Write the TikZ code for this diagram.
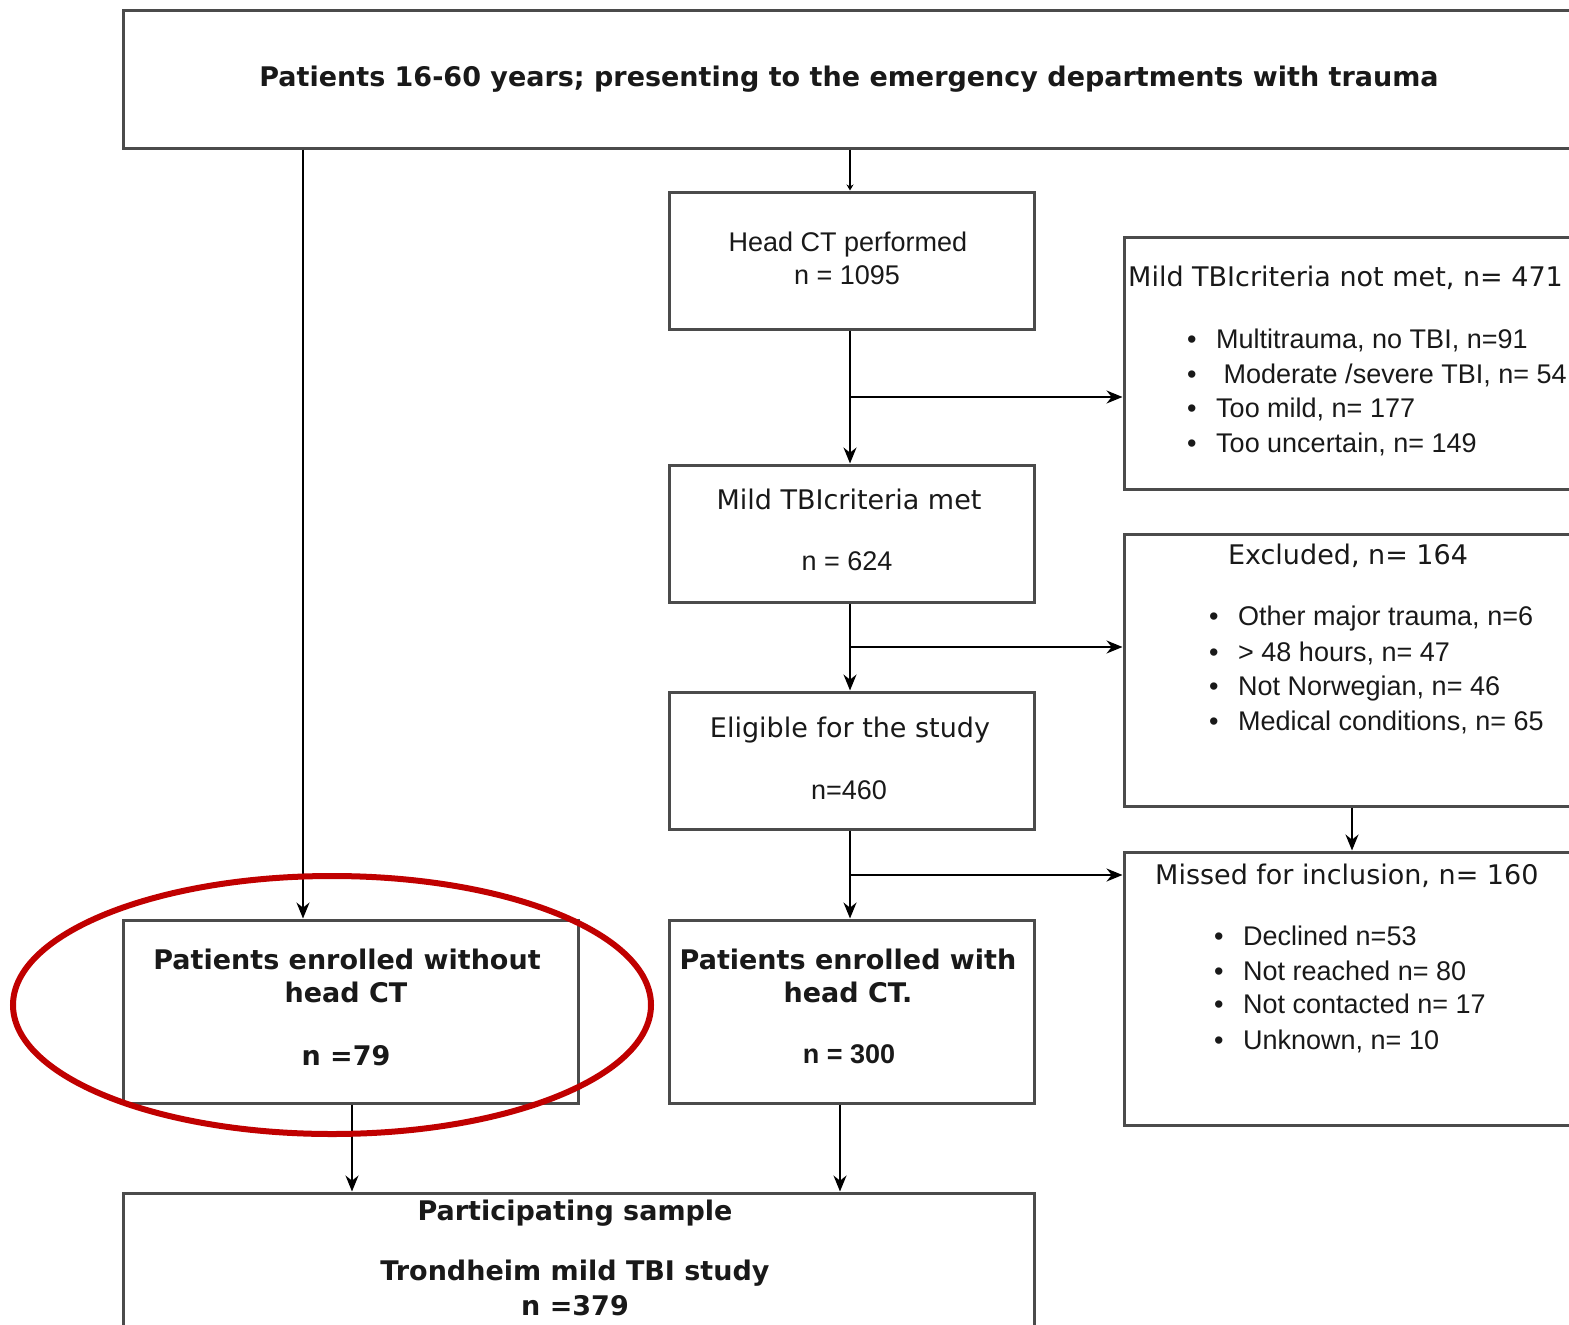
\documentclass[tikz,border=0pt]{standalone}
\usepackage{fontspec}
\usetikzlibrary{arrows.meta,fit,shapes.geometric}
\newfontfamily\verd{DejaVu Sans}
\newfontfamily\helv{Liberation Sans}
\definecolor{boxgray}{RGB}{75,75,75}
\definecolor{ringred}{RGB}{192,0,0}
\definecolor{txt}{RGB}{25,25,25}
\newcommand{\bl}[1]{\makebox[29pt][l]{\textbullet}#1}
\begin{document}
\begin{tikzpicture}[x=1pt,y=-1pt,
  box/.style={draw=boxgray,line width=3pt,inner sep=0pt,rectangle},
  arr/.style={draw=black,line width=1.9pt,-{Stealth[length=16pt,width=13pt]}},
  vt/.style={font=\verd\fontsize{27}{33}\selectfont,inner sep=0pt,text=txt},
  vb/.style={font=\verd\bfseries\fontsize{27}{33}\selectfont,inner sep=0pt,text=txt},
  hv/.style={font=\helv\fontsize{27}{33}\selectfont,inner sep=0pt,text=txt},
]
\clip (0,0) rectangle (1569,1325);
\fill[white] (0,0) rectangle (1569,1325);

% boxes
\node[box,fit={(123,10)(1620,148)}] (top) {};
\node[box,fit={(669,192)(1034,329)}] (headct) {};
\node[box,fit={(1124,237)(1620,489)}] (notmet) {};
\node[box,fit={(669,465)(1034,602)}] (met) {};
\node[box,fit={(1124,534)(1620,806)}] (excl) {};
\node[box,fit={(669,692)(1034,829)}] (elig) {};
\node[box,fit={(1124,852)(1620,1125)}] (missed) {};
\node[box,fit={(123,920)(578,1103)}] (without) {};
\node[box,fit={(669,920)(1034,1103)}] (with) {};
\node[box,fit={(123,1193)(1034,1380)}] (sample) {};

% texts
\begin{scope}[yshift=-7pt]
\node[vb,anchor=mid] (toptext) at (849,77) {Patients 16-60 years; presenting to the emergency departments with trauma};

\node[hv,anchor=mid] (hct1) at (848,242) {Head CT performed};
\node[hv,anchor=mid] (hct2) at (847,275) {n = 1095};

\node[vt,anchor=mid west] (nmt) at (1128,277) {Mild TBIcriteria not met, n= 471};
\node[hv,anchor=mid west] (nm1) at (1187,339) {\bl{Multitrauma, no TBI, n=91}};
\node[hv,anchor=mid west] (nm2) at (1187,374) {\bl{\ Moderate /severe TBI, n= 54}};
\node[hv,anchor=mid west] (nm3) at (1187,408) {\bl{Too mild, n= 177}};
\node[hv,anchor=mid west] (nm4) at (1187,443) {\bl{Too uncertain, n= 149}};

\node[vt,anchor=mid] (met1) at (849,500) {Mild TBIcriteria met};
\node[hv,anchor=mid] (met2) at (847,561) {n = 624};

\node[vt,anchor=mid] (ext) at (1348,555) {Excluded, n= 164};
\node[hv,anchor=mid west] (ex1) at (1209,616) {\bl{Other major trauma, n=6}};
\node[hv,anchor=mid west] (ex2) at (1209,652) {\bl{> 48 hours, n= 47}};
\node[hv,anchor=mid west] (ex3) at (1209,686) {\bl{Not Norwegian, n= 46}};
\node[hv,anchor=mid west] (ex4) at (1209,721) {\bl{Medical conditions, n= 65}};

\node[vt,anchor=mid] (el1) at (850,728) {Eligible for the study};
\node[hv,anchor=mid] (el2) at (849,790) {n=460};

\node[vt,anchor=mid west] (mst) at (1155,875) {Missed for inclusion, n= 160};
\node[hv,anchor=mid west] (ms1) at (1214,936) {\bl{Declined n=53}};
\node[hv,anchor=mid west] (ms2) at (1214,971) {\bl{Not reached n= 80}};
\node[hv,anchor=mid west] (ms3) at (1214,1004) {\bl{Not contacted n= 17}};
\node[hv,anchor=mid west] (ms4) at (1214,1040) {\bl{Unknown, n= 10}};

\node[vb,anchor=mid] (wo1) at (347,960) {Patients enrolled without};
\node[vb,anchor=mid] (wo2) at (346,993) {head CT};
\node[vb,anchor=mid] (wo3) at (346,1056) {n =79};

\node[vb,anchor=mid] (wi1) at (848,960) {Patients enrolled with};
\node[vb,anchor=mid] (wi2) at (848,993) {head CT.};
\node[hv,font=\helv\bfseries\fontsize{27}{33}\selectfont,anchor=mid] (wi3) at (849,1054) {n = 300};

\node[vb,anchor=mid] (sa1) at (575,1211) {Participating sample};
\node[vb,anchor=mid] (sa2) at (575,1271) {Trondheim mild TBI study};
\node[vb,anchor=mid] (sa3) at (575,1306) {n =379};
\end{scope}

% connectors
\coordinate (xL) at (303,0);
\coordinate (xM) at (850,0);
\coordinate (xW) at (352,0);
\coordinate (xC) at (840,0);
\coordinate (xE) at (1352,0);
\coordinate (b1) at (850,397);
\coordinate (b2) at (850,647);
\coordinate (b3) at (850,875);

\draw[arr] (top.south -| xL) -- (without.north -| xL);
\draw[draw=black,line width=1.9pt,-{Stealth[length=6pt,width=7pt]}] (top.south -| xM) -- (headct.north -| xM);
\draw[arr] (headct.south -| xM) -- (met.north -| xM);
\draw[arr] (b1) -- (b1 -| notmet.west);
\draw[arr] (met.south -| xM) -- (elig.north -| xM);
\draw[arr] (b2) -- (b2 -| excl.west);
\draw[arr] (elig.south -| xM) -- (with.north -| xM);
\draw[arr] (b3) -- (b3 -| missed.west);
\draw[arr] (excl.south -| xE) -- (missed.north -| xE);
\draw[arr] (without.south -| xW) -- (sample.north -| xW);
\draw[arr] (with.south -| xC) -- (sample.north -| xC);

% highlight ring
\node[draw=ringred,line width=6pt,ellipse,minimum width=638pt,minimum height=258pt,inner sep=0pt] (ring) at (332,1005) {};
\end{tikzpicture}
\end{document}
